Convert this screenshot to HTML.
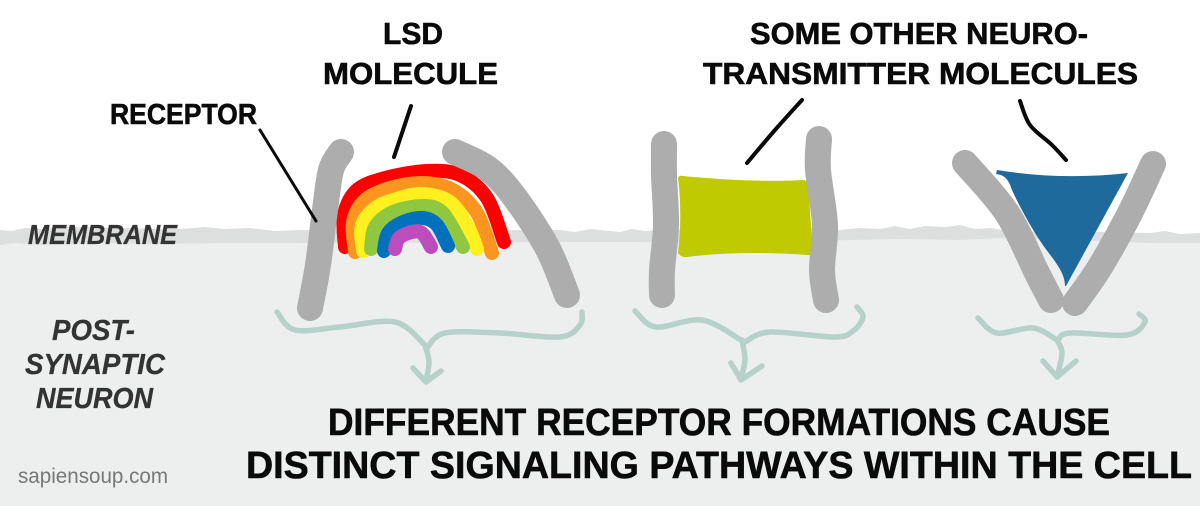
<!DOCTYPE html>
<html>
<head>
<meta charset="utf-8">
<style>
html,body{margin:0;padding:0;background:#fff;width:1200px;height:506px;overflow:hidden}
svg{display:block}
text{font-family:"Liberation Sans",sans-serif;font-weight:700}
.t{fill:#0a0a0a;stroke:#0a0a0a;stroke-width:.6}
.i{fill:#333;stroke:#333;stroke-width:.3;font-style:italic}
.bar{fill:none;stroke:#adadad;stroke-width:26;stroke-linecap:round;stroke-linejoin:round}
.rb{fill:none;stroke-width:14;stroke-linecap:round;stroke-linejoin:round}
.br{fill:none;stroke:#b5d1ca;stroke-width:5.5;stroke-linecap:round;stroke-linejoin:round}
.ln{fill:none;stroke:#0a0a0a;stroke-linecap:round}
</style>
</head>
<body>
<svg width="1200" height="506" viewBox="0 0 1200 506">
  <rect x="0" y="0" width="1200" height="506" fill="#fff"/>
  <path fill="#dddfde" d="M0 230 L12 231 L25 228 L40 229 L60 227 L180 229 L205 227 L225 229 L250 228 L275 231 L300 230 L340 231 L560 230 L575 232 L590 229 L620 232 L632 229 L645 231 L665 230 L700 229 L712 227 L725 231 L745 229 L770 226 L785 229 L800 226 L815 229 L830 231 L860 228 L880 229 L895 226 L910 229 L925 226 L945 227 L960 225 L975 229 L990 228 L1010 231 L1100 232 L1150 233 L1165 231 L1180 234 L1200 233 V246 L0 246 Z"/>
  <path fill="#edefef" d="M0 245 L15 243 L40 245 L100 243 L160 244 L220 243 L300 243 L560 242 L640 242 L680 243 L700 241 L720 243 L760 240 L790 242 L850 240 L900 239 L960 240 L1000 238 L1030 239 L1100 241 L1150 243 L1200 243 V506 H0 Z"/>

  <g>
    <path class="rb sm" stroke="#ff0000" data-pts="345,247 344,215 357,190 385,178 427,171 460,175 487,198 504,242"/>
    <path class="rb sm" stroke="#fb951f" data-pts="355,252 353,222 365,200 390,188 423,183 453,190 477,213 492,253"/>
    <path class="rb sm" stroke="#fff01f" data-pts="363,251 362,225 377,207 400,198 423,194 450,202 468,227 477,249"/>
    <path class="rb sm" stroke="#8fc840" data-pts="371,249 375,227 393,212 423,206 443,213 463,247"/>
    <path class="rb sm" stroke="#0171bd" data-pts="384,251 388,233 403,222 423,218 437,225 448,246"/>
    <path class="rb sm" stroke="#bd4cbd" data-pts="395,249 399,238 412,232 422,233 431,247"/>
  </g>

  <path class="bar sm" data-pts="341,152 331,170 325,210 318,265 310,308"/>
  <path class="bar sm" data-pts="455,152 487,168 513,195 547,247 567,295"/>

  <path fill="#bfca00" d="M678 178 Q 679 175 683 176 C725 180 765 182 803 180 Q 807 180 808 184 L813 252 Q 813 256 808 255 C765 252 725 252 687 257 Q 682 258 678 253 C681 230 681 200 678 178 Z"/>
  <path class="bar sm" data-pts="664,144 664,175 666,225 662,270 662,295"/>
  <path class="bar sm" data-pts="819,139 818,170 825,225 822,270 826,300"/>

  <path fill="#1f6a9c" d="M997 170 C1040 177 1085 178 1128 173 L1066 286 L1065 286 C1065 275 1058 265 1048 252 C1035 235 1020 208 1012 190 C1008 178 1004 175 996 174 Z"/>
  <path class="bar sm" data-pts="965,163 1007,213 1037,273 1051,300"/>
  <path class="bar sm" data-pts="1153,164 1130,213 1100,267 1075,303"/>

  <path class="ln" stroke-width="3" d="M260 130 L316 221"/>
  <path class="ln" stroke-width="4" d="M411 106 L394 157"/>
  <path class="ln sm" stroke-width="4" data-pts="802,100 775,130 747,163"/>
  <path class="ln sm" stroke-width="4" data-pts="1020,101 1030,125 1052,145 1066,160"/>

  <g>
    <path class="br sm" data-pts="277,312 295,330 340,327 395,322 425,345"/>
    <path class="br sm" data-pts="427,348 445,333 500,333 560,337 580,325 582,312"/>
    <path class="br sm" data-pts="425,345 429,362 426,381"/>
    <path class="br" d="M413 368 L426 382 L441 371"/>
  </g>
  <g>
    <path class="br sm" data-pts="635,311 656,327 702,320 741,340"/>
    <path class="br sm" data-pts="745,342 770,332 834,337 853,331 863,317 857,307"/>
    <path class="br sm" data-pts="742,340 745,360 741,378"/>
    <path class="br" d="M731 363 L741 380 L762 366"/>
  </g>
  <g>
    <path class="br sm" data-pts="978,318 997,333 1033,328 1057,340"/>
    <path class="br sm" data-pts="1058,340 1070,333 1127,335 1145,322 1139,314"/>
    <path class="br sm" data-pts="1057,340 1062,353 1057,377"/>
    <path class="br" d="M1043 361 L1057 377 L1076 361"/>
  </g>

  <text class="t" x="383" y="44" font-size="31" textLength="60" lengthAdjust="spacingAndGlyphs">LSD</text>
  <text class="t" x="323" y="84" font-size="31" textLength="175" lengthAdjust="spacingAndGlyphs">MOLECULE</text>
  <text class="t" x="110" y="124" font-size="29" textLength="147" lengthAdjust="spacingAndGlyphs">RECEPTOR</text>
  <text class="t" x="750" y="44" font-size="31" textLength="338" lengthAdjust="spacingAndGlyphs">SOME OTHER NEURO-</text>
  <text class="t" x="703" y="84" font-size="31" textLength="435" lengthAdjust="spacingAndGlyphs">TRANSMITTER MOLECULES</text>

  <text class="i" x="28" y="244" font-size="28" textLength="149" lengthAdjust="spacingAndGlyphs">MEMBRANE</text>
  <text class="i" x="52" y="340" font-size="29" textLength="83" lengthAdjust="spacingAndGlyphs">POST-</text>
  <text class="i" x="25" y="374" font-size="29" textLength="140" lengthAdjust="spacingAndGlyphs">SYNAPTIC</text>
  <text class="i" x="36" y="408" font-size="29" textLength="117" lengthAdjust="spacingAndGlyphs">NEURON</text>

  <text class="t" x="328" y="435" font-size="38" textLength="782" lengthAdjust="spacingAndGlyphs">DIFFERENT RECEPTOR FORMATIONS CAUSE</text>
  <text class="t" x="246" y="478" font-size="38" textLength="946" lengthAdjust="spacingAndGlyphs">DISTINCT SIGNALING PATHWAYS WITHIN THE CELL</text>

  <text x="18" y="483" font-size="21" fill="#777" style="font-weight:400" textLength="150" lengthAdjust="spacingAndGlyphs">sapiensoup.com</text>
</svg>
<script>
document.querySelectorAll('path.sm').forEach(function(el){
  var p=el.getAttribute('data-pts').split(' ').map(function(s){return s.split(',').map(Number);});
  var d='M'+p[0][0]+' '+p[0][1];
  for(var i=0;i<p.length-1;i++){
    var a=p[Math.max(i-1,0)],b=p[i],c=p[i+1],e=p[Math.min(i+2,p.length-1)];
    d+=' C'+(b[0]+(c[0]-a[0])/6)+' '+(b[1]+(c[1]-a[1])/6)+' '+(c[0]-(e[0]-b[0])/6)+' '+(c[1]-(e[1]-b[1])/6)+' '+c[0]+' '+c[1];
  }
  el.setAttribute('d',d);
});
</script>
</body>
</html>
